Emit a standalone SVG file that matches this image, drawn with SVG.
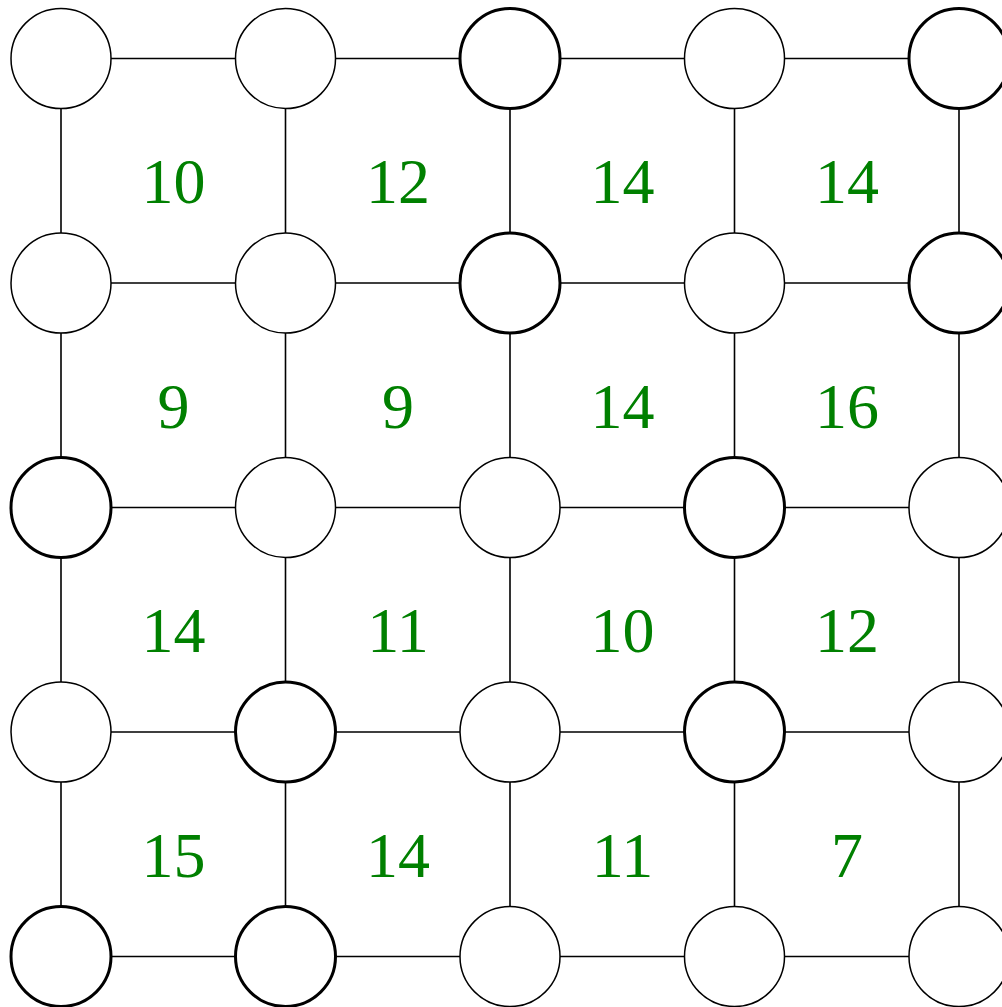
<svg xmlns="http://www.w3.org/2000/svg" width="1002" height="1007" viewBox="0 0 1002 1007">
<style>
.e{stroke:#000;stroke-width:1.6;fill:none}
.n{fill:#fff;stroke:#000;stroke-width:1.5}
.b{fill:#fff;stroke:#000;stroke-width:3}
.t{font-family:"Liberation Serif","Times New Roman",serif;font-size:64px;fill:#008000;text-anchor:middle}
</style>
<rect width="1002" height="1007" fill="#fff"/>
<g id="connectors">
<path class="e" d="M61,58.5H959M61,283H959M61,507.5H959M61,732H959M61,956.5H959M61,58.5V956.5M285.5,58.5V956.5M510,58.5V956.5M734.5,58.5V956.5M959,58.5V956.5"/>
</g>
<g id="n00"><circle class="n" cx="61" cy="58.5" r="50"/></g>
<g id="n10"><circle class="n" cx="285.5" cy="58.5" r="50"/></g>
<g id="n20"><circle class="b" cx="510" cy="58.5" r="50"/></g>
<g id="n30"><circle class="n" cx="734.5" cy="58.5" r="50"/></g>
<g id="n40"><circle class="b" cx="959" cy="58.5" r="50"/></g>
<g id="n01"><circle class="n" cx="61" cy="283" r="50"/></g>
<g id="n11"><circle class="n" cx="285.5" cy="283" r="50"/></g>
<g id="n21"><circle class="b" cx="510" cy="283" r="50"/></g>
<g id="n31"><circle class="n" cx="734.5" cy="283" r="50"/></g>
<g id="n41"><circle class="b" cx="959" cy="283" r="50"/></g>
<g id="n02"><circle class="b" cx="61" cy="507.5" r="50"/></g>
<g id="n12"><circle class="n" cx="285.5" cy="507.5" r="50"/></g>
<g id="n22"><circle class="n" cx="510" cy="507.5" r="50"/></g>
<g id="n32"><circle class="b" cx="734.5" cy="507.5" r="50"/></g>
<g id="n42"><circle class="n" cx="959" cy="507.5" r="50"/></g>
<g id="n03"><circle class="n" cx="61" cy="732" r="50"/></g>
<g id="n13"><circle class="b" cx="285.5" cy="732" r="50"/></g>
<g id="n23"><circle class="n" cx="510" cy="732" r="50"/></g>
<g id="n33"><circle class="b" cx="734.5" cy="732" r="50"/></g>
<g id="n43"><circle class="n" cx="959" cy="732" r="50"/></g>
<g id="n04"><circle class="b" cx="61" cy="956.5" r="50"/></g>
<g id="n14"><circle class="b" cx="285.5" cy="956.5" r="50"/></g>
<g id="n24"><circle class="n" cx="510" cy="956.5" r="50"/></g>
<g id="n34"><circle class="n" cx="734.5" cy="956.5" r="50"/></g>
<g id="n44"><circle class="n" cx="959" cy="956.5" r="50"/></g>
<g id="labels">
<text class="t" x="173.5" y="203">10</text>
<text class="t" x="398" y="203">12</text>
<text class="t" x="622.5" y="203">14</text>
<text class="t" x="847" y="203">14</text>
<text class="t" x="173.5" y="427.5">9</text>
<text class="t" x="398" y="427.5">9</text>
<text class="t" x="622.5" y="427.5">14</text>
<text class="t" x="847" y="427.5">16</text>
<text class="t" x="173.5" y="652">14</text>
<text class="t" x="398" y="652">11</text>
<text class="t" x="622.5" y="652">10</text>
<text class="t" x="847" y="652">12</text>
<text class="t" x="173.5" y="876.5">15</text>
<text class="t" x="398" y="876.5">14</text>
<text class="t" x="622.5" y="876.5">11</text>
<text class="t" x="847" y="876.5">7</text>
</g>
</svg>
